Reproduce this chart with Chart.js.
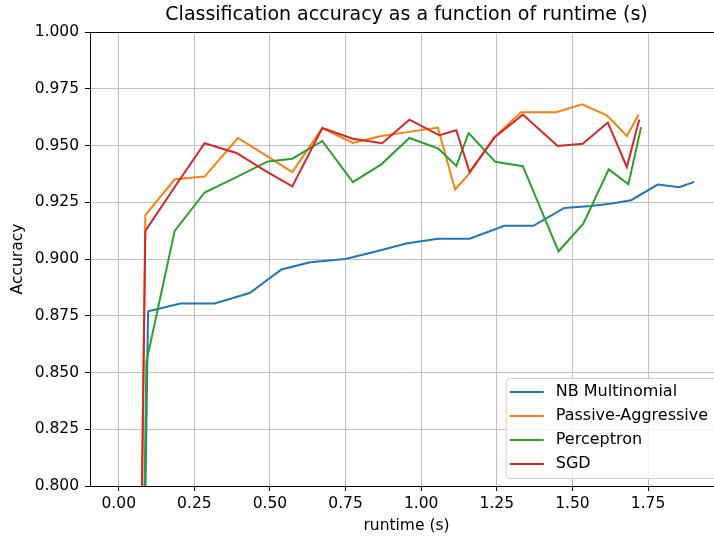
<!DOCTYPE html>
<html>
<head>
<meta charset="utf-8">
<script src="https://cdn.jsdelivr.net/npm/chart.js@4.4.1/dist/chart.umd.min.js"></script>
<style>
  html, body { margin: 0; padding: 0; background: #fff; overflow: hidden; }
</style>
</head>
<body>
<canvas id="chart" width="714" height="540"></canvas>
<script>
// titoli e etichette
const titleText = 'Classification accuracy as a function of runtime (s)';
const xLabel = 'runtime (s)';
const yLabel = 'Accuracy';
const seriesNames = ['NB Multinomial', 'Passive-Aggressive', 'Perceptron', 'SGD'];
const seriesColors = ['#1f77b4', '#ff7f0e', '#2ca02c', '#d62728'];

// tick degli assi
const xTicks = [0, 0.25, 0.5, 0.75, 1.0, 1.25, 1.5, 1.75];
const yTicks = [0.8, 0.825, 0.85, 0.875, 0.9, 0.925, 0.95, 0.975, 1.0];

// NB Multinomial
const nbRuntime = [0, 0.097, 0.204, 0.317, 0.433, 0.538, 0.633, 0.749, 0.85, 0.950, 1.055, 1.160, 1.275, 1.371, 1.473, 1.562, 1.63, 1.694, 1.782, 1.853, 1.903];
const nbAccuracy = [0, 0.877, 0.8804, 0.8804, 0.885, 0.8954, 0.8986, 0.900, 0.9033, 0.9068, 0.9089, 0.9089, 0.9146, 0.9146, 0.9225, 0.9234, 0.9245, 0.9259, 0.9328, 0.9316, 0.934];

// Passive-Aggressive
const paRuntime = [0, 0.088, 0.185, 0.284, 0.394, 0.493, 0.574, 0.673, 0.774, 0.868, 0.961, 1.055, 1.112, 1.157, 1.242, 1.330, 1.446, 1.532, 1.614, 1.680, 1.719];
const paAccuracy = [0, 0.9193, 0.9351, 0.9363, 0.9533, 0.9451, 0.9383, 0.9577, 0.9511, 0.9542, 0.956, 0.9579, 0.9306, 0.9373, 0.9537, 0.9647, 0.9647, 0.9681, 0.9633, 0.9542, 0.9637];

// Perceptron
const pRuntime = [0, 0.0914, 0.185, 0.284, 0.389, 0.493, 0.574, 0.673, 0.774, 0.868, 0.961, 1.057, 1.116, 1.157, 1.245, 1.336, 1.454, 1.536, 1.620, 1.685, 1.727];
const pAccuracy = [0, 0.8547, 0.9124, 0.9293, 0.9361, 0.943, 0.9442, 0.952, 0.9339, 0.9417, 0.9533, 0.9486, 0.941, 0.9555, 0.9428, 0.9409, 0.9034, 0.9156, 0.9395, 0.9329, 0.9581];

// SGD
const sgdRuntime = [0, 0.088, 0.185, 0.284, 0.389, 0.493, 0.574, 0.673, 0.774, 0.871, 0.961, 1.060, 1.116, 1.160, 1.242, 1.336, 1.451, 1.534, 1.617, 1.680, 1.721];
const sgdAccuracy = [0, 0.9124, 0.9317, 0.951, 0.9467, 0.9382, 0.932, 0.9577, 0.953, 0.951, 0.9614, 0.9545, 0.9567, 0.9383, 0.9535, 0.9636, 0.9498, 0.9508, 0.9601, 0.9405, 0.9614];

const runtimes = [nbRuntime, paRuntime, pRuntime, sgdRuntime];
const accuracies = [nbAccuracy, paAccuracy, pAccuracy, sgdAccuracy];

const FONT = 'DejaVu Sans';
const FONT_SIZE = 15.5;
// l'asse originale arriva a 1.998 ma l'immagine è tagliata a destra
const X_MIN = -0.095;
const X_MAX_VISIBLE = 1.968;
const X_MAX_FULL = 1.998;

function toPoints(xs, ys) {
    return xs.map((x, i) => ({ x: x, y: ys[i] }));
}

const datasets = seriesNames.map((name, i) => ({
    label: name,
    data: toPoints(runtimes[i], accuracies[i]),
    borderColor: seriesColors[i],
    backgroundColor: seriesColors[i],
    borderWidth: 2,
    pointRadius: 0,
    tension: 0,
    clip: 0,
    // l'ultima serie va disegnata sopra, come in matplotlib
    order: seriesNames.length - i
}));

// cornice superiore, titoli e legenda in basso a destra
const decorPlugin = {
    id: 'decor',
    afterDraw(chart) {
        const ctx = chart.ctx;
        const a = chart.chartArea;
        const fullRight = chart.scales.x.getPixelForValue(X_MAX_FULL);
        const midX = (a.left + fullRight) / 2;
        ctx.save();

        ctx.strokeStyle = '#000';
        ctx.lineWidth = 1;
        ctx.beginPath();
        ctx.moveTo(a.left, a.top + 0.5);
        ctx.lineTo(a.right, a.top + 0.5);
        ctx.stroke();

        ctx.fillStyle = '#000';
        ctx.textAlign = 'center';
        ctx.textBaseline = 'middle';
        ctx.font = '19px "' + FONT + '"';
        ctx.fillText(titleText, midX, 15);
        ctx.font = FONT_SIZE + 'px "' + FONT + '"';
        ctx.fillText(xLabel, midX, 526);

        // legenda (il bordo destro esce dall'immagine, come nell'originale)
        const ds = chart.data.datasets;
        ctx.font = '16px "' + FONT + '"';
        let maxW = 0;
        ds.forEach(d => { maxW = Math.max(maxW, ctx.measureText(d.label).width); });
        const rowH = 24;
        const boxW = 4 + 34 + 12 + maxW + 8;
        const boxH = ds.length * rowH + 4;
        const bx = fullRight - 7 - boxW;
        const by = a.bottom - 8 - boxH;
        ctx.beginPath();
        ctx.roundRect(bx + 0.5, by + 0.5, boxW + 16, boxH, 4);
        ctx.fillStyle = 'rgba(255,255,255,0.8)';
        ctx.fill();
        ctx.strokeStyle = '#d0d0d0';
        ctx.stroke();
        ds.forEach((d, i) => {
            const cy = by + 14 + i * rowH;
            ctx.strokeStyle = d.borderColor;
            ctx.lineWidth = 2;
            ctx.beginPath();
            ctx.moveTo(bx + 4, cy);
            ctx.lineTo(bx + 38, cy);
            ctx.stroke();
            ctx.fillStyle = '#000';
            ctx.textAlign = 'left';
            ctx.fillText(d.label, bx + 50, cy);
        });
        ctx.restore();
    }
};

new Chart(document.getElementById('chart'), {
    type: 'line',
    data: { datasets: datasets },
    options: {
        responsive: false,
        animation: false,
        devicePixelRatio: 1,
        layout: { padding: { top: 32, right: 0, left: 0, bottom: 0 } },
        plugins: {
            legend: { display: false },
            title: { display: false },
            tooltip: { enabled: false }
        },
        scales: {
            x: {
                type: 'linear',
                min: X_MIN,
                max: X_MAX_VISIBLE,
                afterBuildTicks: scale => { scale.ticks = xTicks.map(v => ({ value: v })); },
                afterFit: scale => { scale.height = 54; },
                grid: { color: '#c0c0c0', lineWidth: 1, tickLength: 5, tickColor: '#000' },
                border: { color: '#000', width: 1 },
                ticks: {
                    color: '#000',
                    padding: 4,
                    maxRotation: 0,
                    font: { family: FONT, size: FONT_SIZE },
                    callback: v => v.toFixed(2)
                }
            },
            y: {
                type: 'linear',
                min: 0.8,
                max: 1.0,
                afterBuildTicks: scale => { scale.ticks = yTicks.map(v => ({ value: v })); },
                afterFit: scale => { scale.width = 90; },
                grid: { color: '#c0c0c0', lineWidth: 1, tickLength: 5, tickColor: '#000' },
                border: { color: '#000', width: 1 },
                ticks: {
                    color: '#000',
                    padding: 6,
                    font: { family: FONT, size: FONT_SIZE },
                    callback: v => v.toFixed(3)
                },
                title: {
                    display: true,
                    text: yLabel,
                    color: '#000',
                    font: { family: FONT, size: FONT_SIZE },
                    padding: { top: 9, bottom: 0 }
                }
            }
        }
    },
    plugins: [decorPlugin]
});
</script>
</body>
</html>
